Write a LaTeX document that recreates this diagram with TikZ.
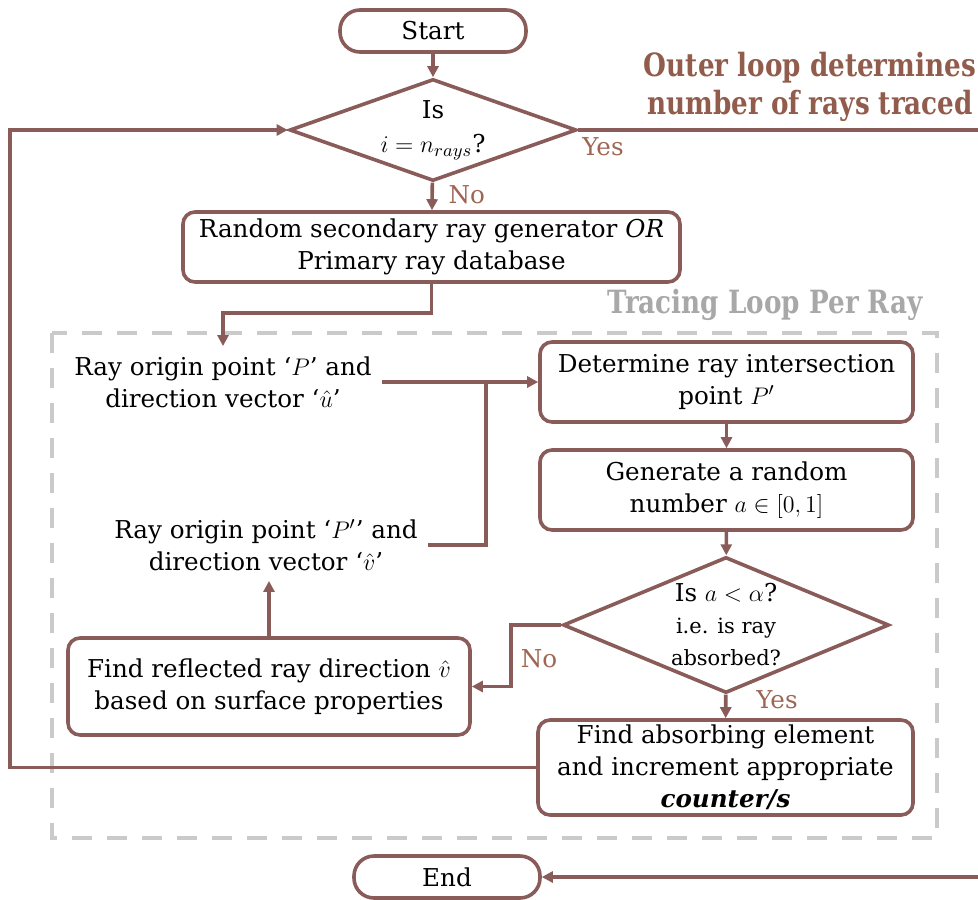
\documentclass[tikz,border=0pt]{standalone}
\usepackage{fontspec}
\setmainfont{DejaVu Serif}
\newfontfamily\titlefont[FakeStretch=0.82]{DejaVu Serif}
\usepackage{tikz}
\usetikzlibrary{arrows.meta,shapes,positioning}
\usepackage{xcolor}
\definecolor{rtbrown}{RGB}{137,92,90}
\definecolor{rtlabel}{RGB}{158,102,82}
\definecolor{rttitle}{RGB}{146,92,76}
\definecolor{rtgrey}{RGB}{202,202,202}
\definecolor{rtgreytext}{RGB}{168,168,168}
\tikzstyle{terminal} = [rectangle, rounded corners=10pt, minimum width=93pt, minimum height=21pt, text centered, draw=rtbrown, line width=1.8pt, fill=white]
\tikzstyle{process} = [rectangle, rounded corners=6pt, inner sep=1pt, align=center, draw=rtbrown, line width=1.8pt, fill=white]
\tikzstyle{decision} = [diamond, inner sep=0pt, draw=rtbrown, line width=1.8pt, fill=white]
\tikzstyle{plain} = [align=center, inner sep=5pt]
\tikzstyle{arrow} = [line width=1.8pt, -{Triangle[length=5.5pt,width=5.5pt]}, color=rtbrown]
\tikzstyle{line} = [line width=1.8pt, color=rtbrown]
\tikzstyle{answer} = [color=rtlabel]
\tikzstyle{heading} = [font=\titlefont\bfseries\fontsize{16pt}{19pt}\selectfont, align=center]

\begin{document}
\begin{tikzpicture}[x=0.5pt, y=-0.5pt, font=\fontsize{12.3pt}{16pt}\selectfont]
\useasboundingbox (0,0) rectangle (978,899);

% Tracing loop frame
\draw[rtgrey, line width=2pt, dash pattern=on 10pt off 7.5pt] (52,333) rectangle (937,838);
\node (tracing) [heading, color=rtgreytext] at (765,305) {Tracing Loop Per Ray};
\node (outer) [heading, color=rttitle] at (810,87) {Outer loop determines\\number of rays traced};

% Outer loop
\node (start) [terminal] at (433,31) {Start};
\node (isdone) [decision, minimum width=143.5pt, minimum height=51pt] at (433,130) {};
\node at (isdone.center) [align=center, font=\fontsize{12.3pt}{17pt}\selectfont] {Is\\$i = n_{rays}$?};
\node (gen) [process, minimum width=248.5pt, minimum height=35pt] at (431.5,247) {Random secondary ray generator \textit{OR}\\Primary ray database};
\node (finish) [terminal] at (447,877) {End};

% Tracing loop
\node (origin) [plain] at (223,382) {Ray origin point ‘$P$’ and\\direction vector ‘$\hat{u}$’};
\node (newor) [plain] at (266,545) {Ray origin point ‘$P'$’ and\\direction vector ‘$\hat{v}$’};
\node (hit) [process, minimum width=186.5pt, minimum height=40pt] at (726.5,382) {Determine ray intersection\\point $P'$};
\node (rand) [process, minimum width=186.5pt, minimum height=40pt] at (726.5,490) {Generate a random\\number $a \in [0,1]$};
\node (absq) [decision, minimum width=163pt, minimum height=68pt] at (726,625) {};
\node at (absq.center) [align=center] {Is $a < \alpha$?\\{\fontsize{10.5pt}{16pt}\selectfont i.e. is ray}\\{\fontsize{10.5pt}{16pt}\selectfont absorbed?}};
\node (absorb) [process, minimum width=187.5pt, minimum height=47.5pt] at (725.5,767.5) {Find absorbing element\\and increment appropriate\\\textbf{\textit{counter/s}}};
\node (refl) [process, minimum width=201pt, minimum height=48.5pt] at (269,686.5) {Find reflected ray direction $\hat{v}$\\based on surface properties};
\coordinate (merge) at (486,382);

% Arrows
\draw[arrow] (start) -- (isdone);
\draw[arrow] (isdone) -- node[answer, pos=0.45, right, xshift=4pt] {No} (gen);
\draw[arrow] (isdone.east) -- ++(413,0) |- (finish.east);
\node[answer] at (603,147) {Yes};
\draw[arrow] (gen.south) -- ++(0,29) -| (origin.north);
\draw[arrow] (origin.east) -- (origin.east -| hit.west);
\draw[line] (newor.east) -| (merge);
\draw[arrow] (hit) -- (rand);
\draw[arrow] (rand) -- (absq);
\draw[arrow] (absq) -- (absorb);
\node[answer] at (777,700) {Yes};
\draw[arrow] (absq.west) -- ++(-50,0) |- (refl.east);
\node[answer] at (539,659) {No};
\draw[arrow] (refl.north) -- (refl.north |- newor.south);
\draw[arrow] (absorb.west) -- ++(-526,0) |- (isdone.west);
\end{tikzpicture}
\end{document}
